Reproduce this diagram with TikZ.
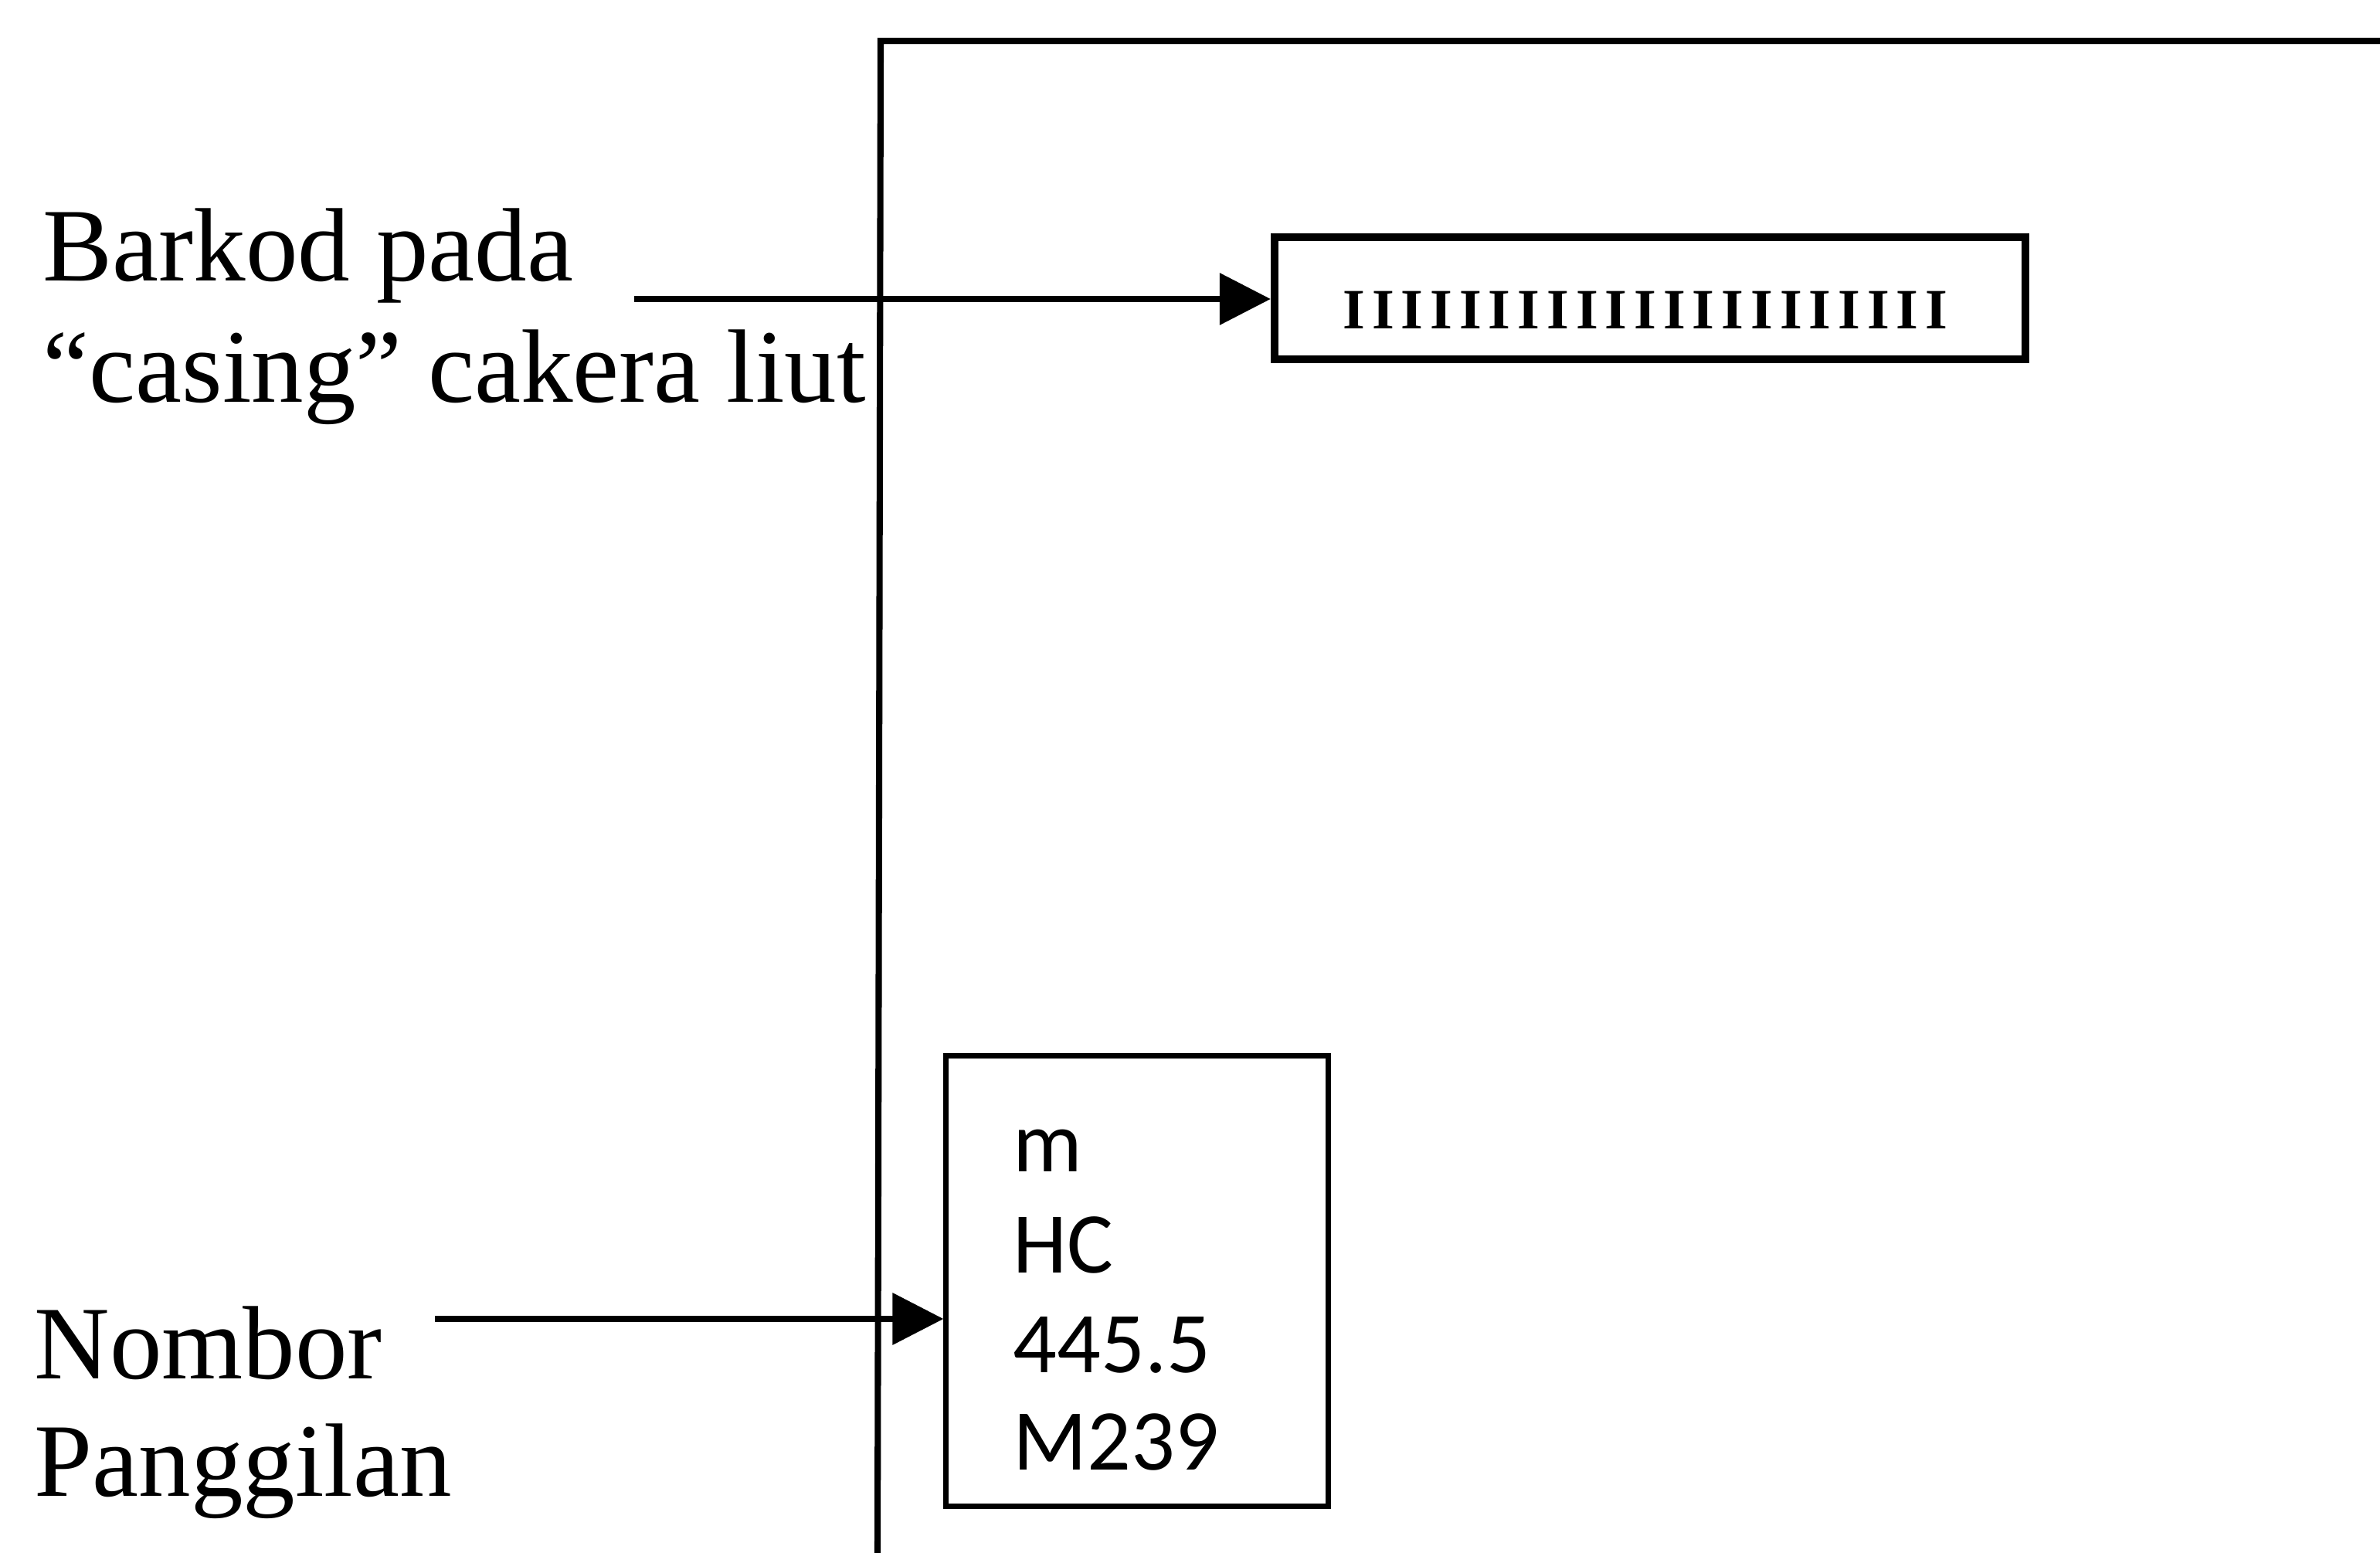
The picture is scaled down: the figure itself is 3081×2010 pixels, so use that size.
\documentclass[tikz,border=0pt]{standalone}
\usepackage{fontspec}
\setmainfont{Liberation Serif}
\newfontfamily\boxfont{Carlito}
\usetikzlibrary{arrows.meta}
\newcommand\barI{\makebox[0.377cm]{I}}
\begin{document}
\begin{tikzpicture}[x=0.01cm,y=-0.01cm,
  lbl/.style={anchor=base west, inner sep=0, font=\fontsize{38.4}{44}\selectfont},
  cn/.style={anchor=base west, inner sep=0, font=\boxfont\fontsize{31.9}{36}\selectfont},
  box/.style={draw, line width=2.8pt, inner sep=0},
  conn/.style={line width=2pt, -{Triangle[length=0.66cm,width=0.66cm]}},
  frame/.style={line width=2.3pt}]
\useasboundingbox (0,0) rectangle (3081,2010);
% frame
\coordinate (ftl) at (1140,53);
\coordinate (ftr) at (3081,53);
\coordinate (fbl) at (1136,2010);
\draw[frame] (fbl) -- (ftl) -- (ftr);
% barcode box
\node[box, minimum width=9.72cm, minimum height=1.58cm] (barbox) at (2136,386) {};
\node[anchor=base, inner sep=0, font=\bfseries\fontsize{21}{24}\selectfont] (bars) at (2130,426)
  {\barI\barI\barI\barI\barI\barI\barI\barI\barI\barI\barI\barI\barI\barI\barI\barI\barI\barI\barI\barI\barI};
% call number box
\node[box, line width=2pt, minimum width=4.94cm, minimum height=5.83cm] (callbox) at (1472,1658) {};
\node[cn] (cn1) at (1311,1516) {m};
\node[cn] (cn2) at (1311,1647) {HC};
\node[cn] (cn3) at (1311,1776) {445.5};
\node[cn] (cn4) at (1311,1902) {M239};
% labels
\node[lbl] (l1a) at (55,364) {Barkod pada};
\node[lbl] (l1b) at (55,521) {“casing” cakera liut};
\node[lbl] (l2a) at (44,1784) {Nombor};
\node[lbl] (l2b) at (44,1936) {Panggilan};
% arrows
\coordinate (a1) at (821,387);
\draw[conn] (a1) -- (a1 -| barbox.west);
\coordinate (a2) at (563,1707);
\draw[conn] (a2) -- (a2 -| callbox.west);
\end{tikzpicture}
\end{document}
